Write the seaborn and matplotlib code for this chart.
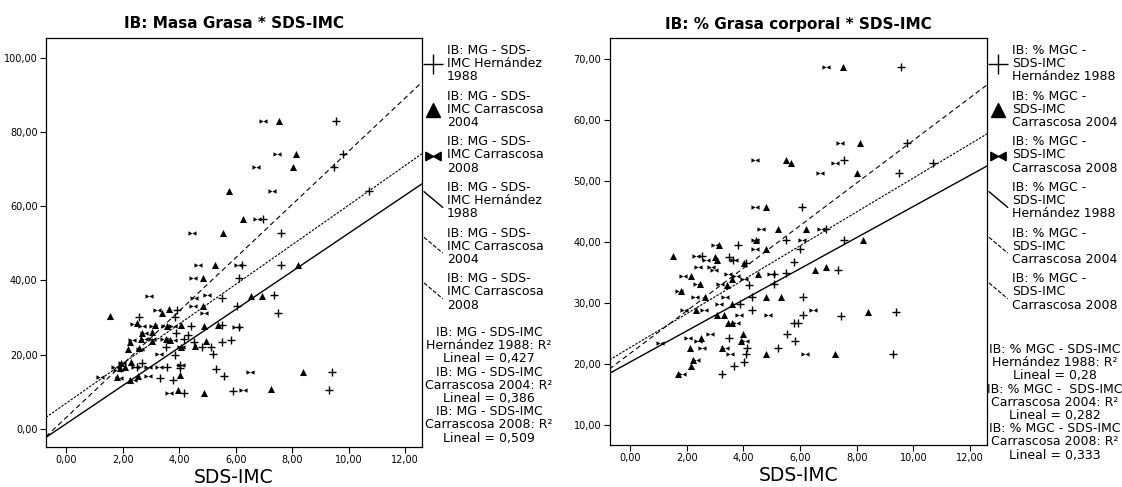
import numpy as np
import pandas as pd
import matplotlib
matplotlib.use("Agg")
import matplotlib.pyplot as plt
import seaborn as sns
from matplotlib.path import Path
from matplotlib.lines import Line2D
from matplotlib.legend_handler import HandlerBase
from matplotlib.ticker import FuncFormatter, MultipleLocator

# ---------------- DATA ----------------
# Left panel: IB Masa Grasa vs SDS-IMC
mg_h1988_x = [9.56, 9.79, 9.50, 10.73, 6.96, 7.60, 6.23, 7.60, 6.10, 5.52, 7.37, 6.06, 7.50, 3.93, 2.58,
              3.84, 4.41, 5.53, 6.12, 3.89, 4.31, 4.18, 4.53, 5.51, 5.83, 3.53, 3.85, 4.82, 5.14, 5.18,
              2.68, 2.50, 3.58, 4.04, 3.33, 3.77, 5.29, 5.58, 9.40, 4.18, 5.89, 9.31, 4.03]
mg_h1988_y = [83.1, 74.1, 70.7, 64.0, 56.7, 52.7, 44.1, 44.1, 40.7, 35.3, 36.1, 33.2, 31.1, 32.0, 30.2,
              30.2, 27.7, 27.9, 27.3, 25.9, 25.2, 24.3, 23.4, 23.4, 23.9, 21.9, 19.8, 21.9, 21.9, 20.1,
              17.8, 16.7, 16.5, 16.4, 13.7, 13.1, 16.0, 14.1, 15.3, 9.5, 10.2, 10.4, 17.1]
mg_c2004_x = [7.53, 8.14, 8.04, 5.76, 6.26, 5.56, 5.26, 8.22, 4.84, 6.55, 6.93, 4.83, 3.65, 3.38, 1.55,
              2.49, 3.13, 3.55, 4.08, 4.87, 5.37, 2.68, 3.02, 2.24, 2.65, 3.53, 3.68, 4.96, 3.02, 2.59,
              2.18, 4.06, 4.56, 1.93, 2.30, 2.08, 1.90, 1.80, 2.55, 2.27, 4.03, 8.39, 3.95, 4.87, 7.25]
mg_c2004_y = [83.1, 74.1, 70.7, 64.0, 56.7, 52.7, 44.1, 44.1, 40.7, 35.9, 35.9, 33.2, 32.3, 31.1, 30.4,
              28.4, 27.9, 27.7, 27.9, 27.7, 27.9, 25.7, 26.1, 23.4, 24.3, 24.3, 23.9, 23.7, 23.6, 21.8,
              21.6, 22.1, 22.3, 17.6, 18.0, 16.7, 16.4, 14.0, 14.1, 13.1, 14.4, 15.3, 10.4, 9.6, 10.6]
mg_c2008_x = [6.97, 7.47, 6.71, 7.27, 6.77, 4.46, 4.67, 6.08, 4.49, 2.92, 4.99, 4.51, 4.49, 4.88, 3.20,
              2.40, 2.68, 3.08, 3.49, 3.78, 6.00, 2.74, 2.33, 2.74, 3.05, 3.47, 3.78, 2.62, 3.27, 4.08,
              1.99, 1.74, 2.43, 2.90, 1.80, 1.18, 1.86, 2.90, 2.37, 3.27, 4.07, 6.52, 3.62, 6.25]
mg_c2008_y = [83.1, 74.1, 70.7, 64.0, 56.7, 52.7, 44.1, 44.1, 40.7, 35.9, 36.1, 35.3, 33.2, 31.1, 32.0,
              28.2, 27.7, 27.7, 27.7, 27.7, 27.5, 25.7, 23.9, 24.1, 24.1, 24.1, 23.9, 21.6, 20.1, 22.1,
              17.6, 16.5, 16.5, 16.7, 15.9, 14.0, 13.8, 14.1, 13.1, 16.5, 17.1, 15.3, 9.6, 10.4]
# fitted lines (intercept, slope) for Hernández 1988, Carrascosa 2004, Carrascosa 2008
mg_intercepts = [1.35, 6.89, 3.03]
mg_slopes = [5.135, 5.34, 7.18]
mg_r2 = ["0,427", "0,386", "0,509"]

# Right panel: IB % Grasa corporal vs SDS-IMC
gc_h1988_x = [9.55, 9.76, 7.57, 10.71, 9.48, 6.06, 6.92, 7.57, 5.50, 6.00, 3.82, 2.53, 3.48, 3.65, 4.10,
              5.78, 7.35, 5.50, 5.08, 4.20, 5.08, 4.32, 6.09, 3.87, 4.30, 9.38, 6.09, 7.46, 5.78, 5.94,
              5.55, 3.50, 5.84, 4.12, 5.23, 4.11, 9.29, 4.02, 3.69, 3.25]
gc_h1988_y = [68.7, 56.2, 53.5, 53.0, 51.3, 45.8, 42.2, 40.4, 40.4, 38.8, 39.6, 37.8, 37.6, 37.0, 36.5,
              36.8, 35.4, 35.0, 34.8, 32.9, 33.2, 31.0, 31.0, 29.8, 28.9, 28.6, 28.0, 27.9, 26.8, 26.8,
              25.0, 24.3, 23.8, 22.7, 22.7, 21.6, 21.6, 20.4, 19.7, 18.4]
gc_c2004_x = [7.52, 8.13, 5.50, 5.69, 8.00, 4.80, 5.22, 6.22, 4.45, 8.22, 4.80, 3.15, 1.52, 3.01, 3.06,
              4.01, 6.93, 6.52, 4.51, 2.17, 3.59, 2.49, 3.41, 1.81, 2.65, 4.80, 5.32, 3.59, 2.33, 8.39,
              3.06, 3.31, 3.46, 3.59, 3.98, 2.50, 3.91, 2.11, 3.25, 4.80, 7.22, 2.21, 2.15, 1.71]
gc_c2004_y = [68.7, 56.2, 53.5, 53.0, 51.3, 45.8, 42.2, 42.2, 40.4, 40.4, 38.8, 39.6, 37.8, 37.6, 37.0,
              36.5, 35.9, 35.4, 34.8, 34.4, 34.0, 33.2, 32.9, 32.0, 31.0, 31.0, 31.0, 29.8, 28.9, 28.6,
              28.0, 28.0, 26.8, 26.8, 25.0, 24.3, 23.8, 22.7, 22.7, 21.6, 21.6, 20.7, 19.7, 18.4]
gc_c2008_x = [6.93, 7.43, 4.40, 7.23, 6.70, 4.42, 4.61, 6.76, 4.42, 6.07, 4.40, 3.02, 2.33, 2.68, 3.69,
              2.40, 2.87, 2.97, 3.46, 4.98, 1.87, 3.75, 4.03, 2.36, 3.19, 1.73, 2.28, 3.34, 3.15, 1.90,
              2.62, 6.47, 3.86, 4.87, 3.73, 2.83, 2.05, 2.40, 4.05, 2.55, 3.34, 3.54, 6.19, 2.33, 1.83, 1.07]
gc_c2008_y = [68.7, 56.2, 53.5, 53.0, 51.3, 45.8, 42.2, 42.2, 40.4, 40.4, 38.8, 39.6, 37.8, 37.0, 37.0,
              35.9, 35.9, 35.4, 34.8, 34.8, 34.4, 34.4, 34.0, 33.2, 33.2, 32.0, 31.0, 31.0, 29.8, 28.9,
              28.9, 28.9, 28.0, 28.0, 26.8, 25.0, 24.3, 23.8, 23.8, 22.7, 22.7, 21.6, 21.6, 20.7, 18.4, 23.4]
gc_intercepts = [20.3, 22.67, 21.7]
gc_slopes = [2.555, 2.785, 3.50]
gc_r2 = ["0,28", "0,282", "0,333"]

refs = ["Hernández 1988", "Carrascosa 2004", "Carrascosa 2008"]
mg_legend_labels = ["IB: MG - SDS-\nIMC Hernández\n1988", "IB: MG - SDS-\nIMC Carrascosa\n2004",
                    "IB: MG - SDS-\nIMC Carrascosa\n2008"]
gc_legend_labels = ["IB: % MGC -\nSDS-IMC\nHernández 1988", "IB: % MGC -\nSDS-IMC\nCarrascosa 2004",
                    "IB: % MGC -\nSDS-IMC\nCarrascosa 2008"]
mg_r2_prefix = ["IB: MG - SDS-IMC", "IB: MG - SDS-IMC", "IB: MG - SDS-IMC"]
gc_r2_prefix = ["IB: % MGC - SDS-IMC", "IB: % MGC -  SDS-IMC", "IB: % MGC - SDS-IMC"]

# ---------------- STYLE ----------------
sns.set_theme(style="ticks")
plt.rcParams["font.family"] = ["DejaVu Sans"]
plt.rcParams["text.color"] = "black"
plt.rcParams["axes.labelcolor"] = "black"

bowtie = Path([(-1, 0.55), (0, 0), (1, 0.55), (1, -0.55), (0, 0), (-1, -0.55), (-1, 0.55)],
              [Path.MOVETO, Path.LINETO, Path.LINETO, Path.LINETO, Path.LINETO, Path.LINETO, Path.CLOSEPOLY])
markers = ["+", "^", bowtie]
msizes = [36, 26, 34]
line_styles = ["-", (0, (2.2, 1.2)), (0, (4.5, 3))]
line_widths = [1.0, 0.8, 0.8]
TXT = 9


class HandlerDiag(HandlerBase):
    def create_artists(self, legend, orig_handle, xdescent, ydescent, width, height, fontsize, trans):
        ln = Line2D([-xdescent, -xdescent + width], [-ydescent + height * 1.6, -ydescent - height * 0.2])
        ln.set_color(orig_handle.get_color())
        ln.set_linestyle(orig_handle.get_linestyle())
        ln.set_linewidth(orig_handle.get_linewidth())
        ln.set_transform(trans)
        return [ln]


fig = plt.figure(figsize=(11.22, 4.87), dpi=100)
W, H = 1122, 487


def draw_panel(rect, title, xs, ys, intercepts, slopes, ylim, ystep, leg_labels, r2_prefix, r2_vals,
               leg_anchor, r2_anchor):
    ax = fig.add_axes(rect)
    for i in range(3):
        df = pd.DataFrame({"SDS-IMC": xs[i], "valor": ys[i]})
        kw = dict(linewidth=1.0) if markers[i] == "+" else dict(linewidth=0)
        sns.scatterplot(data=df, x="SDS-IMC", y="valor", marker=markers[i], s=msizes[i], color="black",
                        ax=ax, legend=False, zorder=3, **kw)
    ax.set_xlim(-0.72, 12.6)
    ax.set_ylim(*ylim)
    xl = np.array(ax.get_xlim())
    for i in range(3):
        ax.plot(xl, intercepts[i] + slopes[i] * xl, color="black", linestyle=line_styles[i],
                linewidth=line_widths[i], zorder=2)
    ax.xaxis.set_major_locator(MultipleLocator(2))
    ax.yaxis.set_major_locator(MultipleLocator(ystep))
    fmt = FuncFormatter(lambda v, p: f"{v:.2f}".replace(".", ","))
    ax.xaxis.set_major_formatter(fmt)
    ax.yaxis.set_major_formatter(fmt)
    ax.tick_params(direction="out", length=4, width=0.8, labelsize=7, pad=2, color="black",
                   labelcolor="black", top=False, right=False)
    for s in ax.spines.values():
        s.set_visible(True)
        s.set_color("black")
        s.set_linewidth(0.9)
    ax.set_title(title, fontsize=11, fontweight="bold", pad=7, color="black")
    ax.set_xlabel("SDS-IMC", fontsize=13.5, labelpad=2, color="black")
    ax.set_ylabel("")

    handles = [Line2D([], [], ls="none", marker="+", markersize=15, mew=1, color="black"),
               Line2D([], [], ls="none", marker="^", markersize=10, color="black"),
               Line2D([], [], ls="none", marker=bowtie, markersize=11, color="black")]
    for i in range(3):
        handles.append(Line2D([], [], color="black", linestyle=line_styles[i], linewidth=line_widths[i]))
    labels = list(leg_labels) + list(leg_labels)
    hmap = {h: HandlerDiag() for h in handles[3:]}
    leg = fig.legend(handles, labels, loc="upper left",
                     bbox_to_anchor=(leg_anchor[0] / W, 1 - leg_anchor[1] / H),
                     frameon=False, fontsize=TXT, handlelength=1.5, handletextpad=0.35, labelspacing=0.5,
                     borderpad=0, borderaxespad=0, handler_map=hmap)
    for t in leg.get_texts():
        t.set_linespacing(1.02)
        t.set_color("black")
    r2_text = "\n".join(f"{r2_prefix[i]}\n{refs[i]}: R²\nLineal = {r2_vals[i]}" for i in range(3))
    fig.text(r2_anchor[0] / W, 1 - r2_anchor[1] / H, r2_text, ha="center", va="top", fontsize=TXT,
             linespacing=1.02, multialignment="center", color="black")
    return ax


draw_panel([46 / W, 1 - 447 / H, 376 / W, 409 / H], "IB: Masa Grasa * SDS-IMC",
           [mg_h1988_x, mg_c2004_x, mg_c2008_x], [mg_h1988_y, mg_c2004_y, mg_c2008_y],
           mg_intercepts, mg_slopes, (-4.95, 105.4), 20, mg_legend_labels, mg_r2_prefix, mg_r2,
           (424, 44), (489, 326))
draw_panel([609.5 / W, 1 - 445 / H, 377.5 / W, 406.7 / H], "IB: % Grasa corporal * SDS-IMC",
           [gc_h1988_x, gc_c2004_x, gc_c2008_x], [gc_h1988_y, gc_c2004_y, gc_c2008_y],
           gc_intercepts, gc_slopes, (6.7, 73.45), 10, gc_legend_labels, gc_r2_prefix, gc_r2,
           (989, 44), (1055, 343))

fig.savefig("out.png", dpi=100)
